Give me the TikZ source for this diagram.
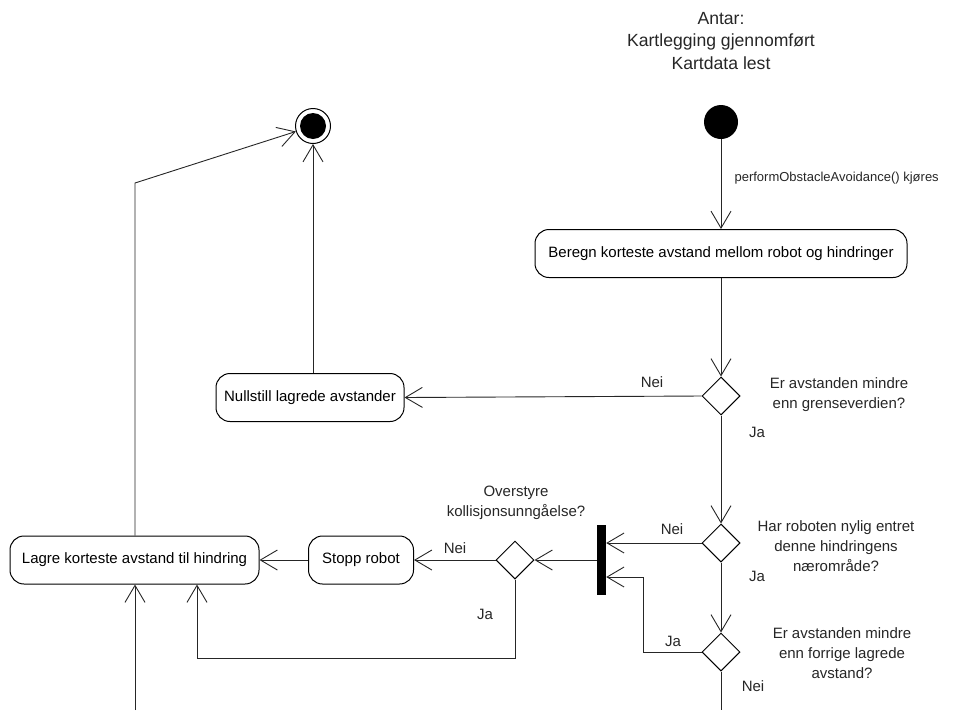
\documentclass[tikz,border=0pt]{standalone}
\usepackage{fontspec}
\setmainfont{Liberation Sans}
\usetikzlibrary{arrows.meta,shapes.geometric,calc}

\tikzset{
  flow/.style={draw=black!85, line width=0.9pt},
  arr/.style={flow, -{Straight Barb[length=17pt,width=20pt,line width=0.9pt]}},
  action/.style={draw, line width=1pt, rounded corners=14pt, minimum height=48pt,
    inner sep=0pt, font=\fontsize{15}{18}\selectfont},
  choice/.style={draw, line width=1pt, diamond, aspect=1, inner sep=0pt,
    minimum width=38pt, minimum height=38pt},
  note/.style={align=center, font=\fontsize{15}{20}\selectfont, text=black!85},
  guard/.style={font=\fontsize{15}{18}\selectfont, text=black!85},
}

\begin{document}
\begin{tikzpicture}[x=1pt, y=-1pt]
\useasboundingbox (0,0) rectangle (976,710);

% title
\node[align=center, font=\fontsize{17.6}{22.5}\selectfont, text=black!85] (title) at (721,41) {Antar:\\Kartlegging gjennomført\\Kartdata lest};

% start and end
\node[circle, fill=black, minimum size=34pt, inner sep=0pt] (start) at (721,122) {};
\node[circle, draw, line width=1pt, minimum size=35pt, inner sep=0pt] (final) at (313,126) {};
\node[circle, fill=black, minimum size=26pt, inner sep=0pt] (finalin) at (313,126) {};

% actions
\node[action, minimum width=372pt] (beregn) at (721,253.5) {Beregn korteste avstand mellom robot og hindringer};
\node[action, minimum width=188pt] (nullstill) at (310,397.5) {Nullstill lagrede avstander};
\node[action, minimum width=249pt] (lagre) at (134.5,560) {Lagre korteste avstand til hindring};
\node[action, minimum width=105pt] (stopp) at (361,560) {Stopp robot};

% decisions
\node[choice] (d1) at (721,396) {};
\node[choice] (d2) at (721,543) {};
\node[choice] (d3) at (721,652) {};
\node[choice] (d4) at (515,560) {};

% join bar
\node[rectangle, fill=black, minimum width=9pt, minimum height=70pt, inner sep=0pt] (bar) at (601.5,560) {};

% decision texts
\node[note] (q1) at (839,395) {Er avstanden mindre\\enn grenseverdien?};
\node[note] (q2) at (836,546) {Har roboten nylig entret\\denne hindringens\\nærområde?};
\node[note] (q3) at (842,653) {Er avstanden mindre\\enn forrige lagrede\\avstand?};
\node[note] (q4) at (516,503) {Overstyre\\kollisjonsunngåelse?};

% helper points
\coordinate (c1) at (643,577);
\coordinate (c2) at (197,658);
\coordinate (c3) at (135,710);
\coordinate (c4) at (135,183);
\coordinate (c5) at (721,710);

% connectors
\draw[arr] (start) -- (beregn.north);
\node[anchor=west, font=\fontsize{13}{16}\selectfont, text=black!85] (trig) at (731,178) {performObstacleAvoidance() kjøres};
\draw[arr] (beregn.south) -- (d1.north);
\draw[arr] (d1.west) -- (nullstill.east);
\draw[arr] (final |- nullstill.north) -- (final.south);
\draw[arr] (d1.south) -- (d2.north);
\draw[arr] (d2.west) -- (d2.west -| bar.east);
\draw[arr] (d2.south) -- (d3.north);
\draw[arr] (d3.west) -| (c1) -- (c1 -| bar.east);
\draw[flow] (d3.south) -- (c5);
\draw[arr] (bar.west |- d4.east) -- (d4.east);
\draw[arr] (d4.west) -- (stopp.east);
\draw[arr] (stopp.west) -- (lagre.east);
\draw[arr] (d4.south) |- (c2) -- (c2 |- lagre.south);
\draw[arr] (c3) -- (c3 |- lagre.south);
\draw[arr] (c4 |- lagre.north) -- (c4) -- (final);

% guards
\node[guard] (g1) at (652,382) {Nei};
\node[guard] (g2) at (757,432) {Ja};
\node[guard] (g3) at (672,529) {Nei};
\node[guard] (g4) at (757,576) {Ja};
\node[guard] (g5) at (673,641) {Ja};
\node[guard] (g6) at (753,686) {Nei};
\node[guard] (g7) at (455,548) {Nei};
\node[guard] (g8) at (485,614) {Ja};
\end{tikzpicture}
\end{document}
